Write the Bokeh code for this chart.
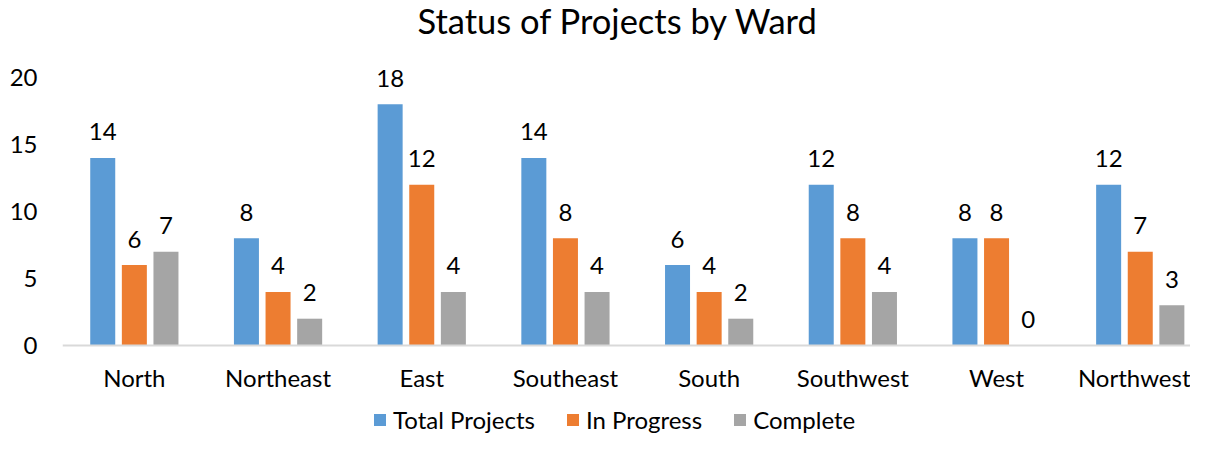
from bokeh.plotting import figure
from bokeh.models import Range1d, FixedTicker, ColumnDataSource, Legend, LegendItem, Label
from bokeh.core.properties import value
from bokeh.embed import file_html
from bokeh.resources import INLINE

title_text = "Status of Projects by Ward"
wards = ["North", "Northeast", "East", "Southeast", "South", "Southwest", "West", "Northwest"]
total_projects = [14, 8, 18, 14, 6, 12, 8, 12]
in_progress = [6, 4, 12, 8, 4, 8, 8, 7]
complete = [7, 2, 4, 4, 2, 4, 0, 3]
series_names = ["Total Projects", "In Progress", "Complete"]
series_colors = ["#5B9BD5", "#ED7D31", "#A5A5A5"]
y_ticks = [0, 5, 10, 15, 20]

FONT = "Lato"
W, H = 1190, 434
L = 62
zero_px = 345          # canvas y of value 0
px_per_unit = 13.4
cat_px = 143.7
frame_w = W - L

p = figure(width=W, height=H, output_backend="svg", toolbar_location=None,
           x_range=Range1d(0, frame_w / cat_px),
           y_range=Range1d(-(H - zero_px) / px_per_unit, zero_px / px_per_unit),
           min_border_left=L, min_border_right=0, min_border_top=0, min_border_bottom=0)
p.outline_line_color = None
p.grid.visible = False
p.background_fill_color = "white"
p.border_fill_color = "white"

# chart title (screen units measured from the frame's bottom-left)
p.add_layout(Label(x=355, y=H - 20, x_units="screen", y_units="screen", text=title_text,
                   text_font=FONT, text_font_size="34.5px", text_color="#000000",
                   text_align="left", text_baseline="alphabetic"))

centers = [i + 0.5 for i in range(len(wards))]
p.xaxis.fixed_location = 0
p.xaxis.ticker = FixedTicker(ticks=centers)
p.xaxis.major_label_overrides = {c: w for c, w in zip(centers, wards)}
p.xaxis.major_tick_line_color = None
p.xaxis.major_tick_out = 0
p.xaxis.major_tick_in = 0
p.xaxis.minor_tick_line_color = None
p.xaxis.axis_line_color = "#D9D9D9"
p.xaxis.axis_line_width = 2
p.xaxis.major_label_text_font = FONT
p.xaxis.major_label_text_font_size = "24px"
p.xaxis.major_label_text_color = "#000000"
p.xaxis.major_label_standoff = 17

p.yaxis.ticker = FixedTicker(ticks=y_ticks)
p.yaxis.axis_line_color = None
p.yaxis.major_tick_line_color = None
p.yaxis.major_tick_out = 0
p.yaxis.major_tick_in = 0
p.yaxis.minor_tick_line_color = None
p.yaxis.major_label_text_font = FONT
p.yaxis.major_label_text_font_size = "24px"
p.yaxis.major_label_text_color = "#000000"
p.yaxis.major_label_standoff = 25

offsets = [-0.22, 0.0, 0.22]
bar_w = 0.174
items = []
for vals, name, color, off in zip([total_projects, in_progress, complete], series_names, series_colors, offsets):
    src = ColumnDataSource(dict(x=[c + off for c in centers], top=vals, label=[str(v) for v in vals]))
    r = p.vbar(x="x", top="top", width=bar_w, bottom=0, source=src, fill_color=color, line_color=None)
    p.text(x="x", y="top", text="label", source=src, text_align="center", text_baseline="middle",
           y_offset=-26, text_font=value(FONT), text_font_size="24px", text_color="#000000")
    items.append(LegendItem(label=name, renderers=[r]))

legend = Legend(items=items, orientation="horizontal", location=(310, 0),
                glyph_width=15, glyph_height=15, label_standoff=6, spacing=30,
                padding=0, margin=0, border_line_color=None, background_fill_alpha=0,
                label_text_font=FONT, label_text_font_size="24px", label_text_color="#000000",
                label_text_line_height=1.0)
p.add_layout(legend, "center")

open("out.html", "w").write(file_html(p, INLINE))
